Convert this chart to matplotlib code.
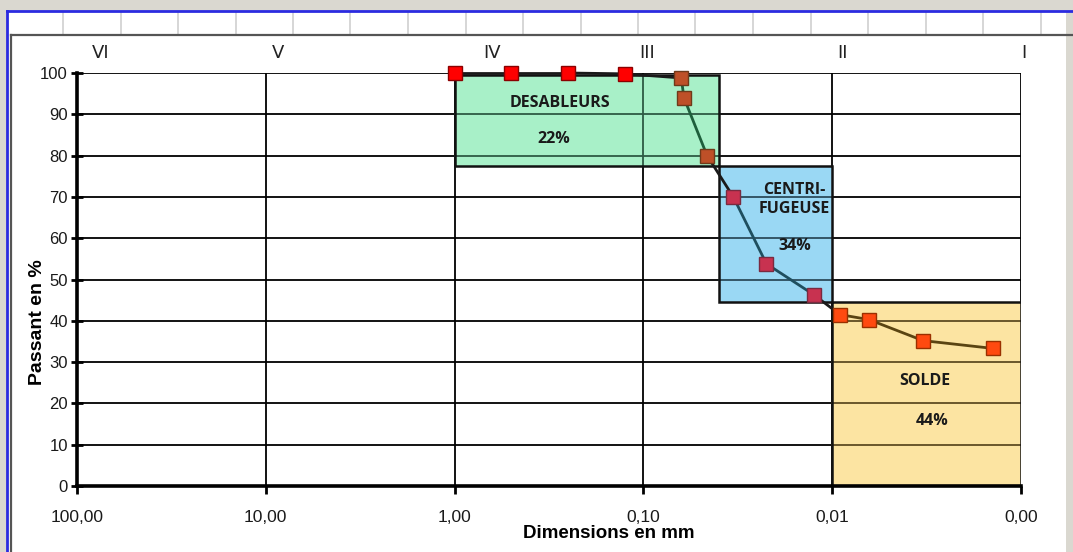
import matplotlib
matplotlib.use("Agg")
import matplotlib.pyplot as plt
from matplotlib.patches import Rectangle
from matplotlib.lines import Line2D

# ---------------- data ----------------
diam_mm = [1.0, 0.5, 0.25, 0.125, 0.063, 0.061, 0.046, 0.0334, 0.0223, 0.0125,
           0.0091, 0.0064, 0.0033, 0.0014]
passant = [100.0, 100.0, 100.0, 99.8, 98.8, 94.0, 80.0, 70.0, 53.8, 46.3,
           41.5, 40.3, 35.2, 33.3]

x_ticks = [100, 10, 1, 0.1, 0.01, 0.001]
x_tick_labels = ["100,00", "10,00", "1,00", "0,10", "0,01", "0,00"]
y_ticks = list(range(0, 101, 10))

roman_labels = ["VI", "V", "IV", "III", "II", "I"]
roman_x = [74.6, 8.64, 0.637, 0.0953, 0.00885, 0.000964]

box_names = ["DESABLEURS", "CENTRI-\nFUGEUSE", "SOLDE"]
box_pct = ["22%", "34%", "44%"]
box_x = [(1.0, 0.04), (0.04, 0.01), (0.01, 0.001)]
box_y = [(77.5, 99.5), (44.5, 77.5), (0.0, 44.5)]

# ---------------- style ----------------
box_face = ["#A8F0C8", "#9AD8F4", "#FCE4A2"]
box_grid = ["#2E5A44", "#2C4C5C", "#5E4C22"]
box_line_col = ["#1E5F3C", "#1F4F5F", "#5A4412"]
box_mk_face = ["#BE5028", "#C83250", "#FF4A10"]
box_mk_edge = ["#6E3A1A", "#7A2A40", "#9A3000"]
name_xy = [(0.278, 92.7), (0.0158, 69.4), (0.00322, 25.4)]
pct_xy = [(0.30, 84.0), (0.0158, 58.2), (0.00296, 15.7)]

W, H = 1073, 552
fig = plt.figure(figsize=(W/100, H/100), dpi=100)
fig.patch.set_facecolor("#DAD8D0")

def fx(px):
    return px / W

def fy(py):
    return 1 - py / H

# window frame
fig.add_artist(Rectangle((fx(7), 0), fx(1066) - fx(7), fy(11), transform=fig.transFigure,
                         facecolor="white", edgecolor="none", zorder=0))
for cx in [63 + 57.5 * i for i in range(18)]:
    if cx < 1066:
        fig.add_artist(Line2D([fx(cx), fx(cx)], [fy(12), fy(34)], transform=fig.transFigure,
                              color="#D0D0D0", lw=1.2, zorder=1))
fig.add_artist(Line2D([fx(7), 1], [fy(11), fy(11)], transform=fig.transFigure,
                      color="#2B2BE0", lw=2, zorder=2))
fig.add_artist(Line2D([fx(7), fx(7)], [fy(11), 0], transform=fig.transFigure,
                      color="#2B2BE0", lw=2, zorder=2))
fig.add_artist(Line2D([fx(11), 1], [fy(34.5), fy(34.5)], transform=fig.transFigure,
                      color="#555555", lw=1.6, zorder=2))
fig.add_artist(Line2D([fx(11), fx(11)], [fy(34.5), 0], transform=fig.transFigure,
                      color="#555555", lw=1.6, zorder=2))

ax = fig.add_axes([fx(77), fy(486), fx(1021) - fx(77), fy(73) - fy(486)])
ax.set_facecolor("white")
ax.set_xscale("log")
ax.set_xlim(100, 0.001)
ax.set_ylim(0, 100)

ax.set_xticks(x_ticks)
ax.set_xticklabels(x_tick_labels, fontsize=12.5, family="Liberation Sans", color="#1a1a1a")
ax.minorticks_off()
ax.set_yticks(y_ticks)
ax.set_yticklabels([str(v) for v in y_ticks], fontsize=12, family="Liberation Sans", color="#1a1a1a")
ax.tick_params(axis="x", direction="out", length=6, width=2, pad=11)
ax.tick_params(axis="y", direction="inout", length=9, width=2, pad=2)

ax.set_axisbelow(True)
ax.grid(True, which="major", color="black", lw=1.3)
for s in ["top", "right"]:
    ax.spines[s].set_visible(False)
for s in ["left", "bottom"]:
    ax.spines[s].set_linewidth(2.6)
    ax.spines[s].set_zorder(6)

# boxes (with the grid lines seen through them, tinted)
for i in range(len(box_names)):
    x0, x1 = box_x[i]
    y0, y1 = box_y[i]
    ax.add_patch(Rectangle((x1, y0), x0 - x1, y1 - y0, facecolor=box_face[i],
                           edgecolor="none", zorder=1.5))
    for yv in y_ticks:
        if y0 < yv < y1:
            ax.plot([x1, x0], [yv, yv], color=box_grid[i], lw=1.3, zorder=1.6)
    for xv in x_ticks:
        if x1 < xv < x0:
            ax.plot([xv, xv], [y0, y1], color=box_grid[i], lw=1.3, zorder=1.6)
    ax.add_patch(Rectangle((x1, y0), x0 - x1, y1 - y0, facecolor="none",
                           edgecolor="#111111", lw=1.8, zorder=1.7))
    ax.text(name_xy[i][0], name_xy[i][1], box_names[i], ha="center", va="center",
            fontsize=11.5, family="Open Sans", fontweight="bold", color="#1a1a1a",
            linespacing=1.3, zorder=7)
    ax.text(pct_xy[i][0], pct_xy[i][1], box_pct[i], ha="center", va="center",
            fontsize=11.5, family="Open Sans", fontweight="bold", color="#1a1a1a", zorder=7)

def zone(x, y):
    for i in range(len(box_x)):
        if box_x[i][1] <= x <= box_x[i][0] and box_y[i][0] <= y < box_y[i][1]:
            return i
    return -1

zones = [zone(x, y) for x, y in zip(diam_mm, passant)]

# line segments
for k in range(len(diam_mm) - 1):
    z = zones[k] if zones[k] == zones[k + 1] else -1
    col = box_line_col[z] if z >= 0 else "#1a1a1a"
    ax.plot(diam_mm[k:k + 2], passant[k:k + 2], color=col, lw=2.0, zorder=4,
            solid_capstyle="round", clip_on=False)

# markers
for x, y, z in zip(diam_mm, passant, zones):
    fc = box_mk_face[z] if z >= 0 else "#FF0000"
    ec = box_mk_edge[z] if z >= 0 else "#8B0000"
    ax.plot([x], [y], marker="s", ms=9.5, mfc=fc, mec=ec, mew=1.0, ls="none",
            zorder=5, clip_on=False)

# roman numerals
for lab, xv in zip(roman_labels, roman_x):
    ax.text(xv, 104.9, lab, ha="center", va="center", fontsize=13,
            family="DejaVu Sans", color="#222222", clip_on=False)

fig.text(fx(609), fy(533), "Dimensions en mm", ha="center", va="center",
         fontsize=13.5, fontweight="bold", family="Liberation Sans")
fig.text(fx(37), fy(322), "Passant en %", ha="center", va="center", rotation=90,
         fontsize=14, fontweight="bold", family="Liberation Sans")

fig.savefig("out.png", dpi=100, facecolor=fig.get_facecolor())
